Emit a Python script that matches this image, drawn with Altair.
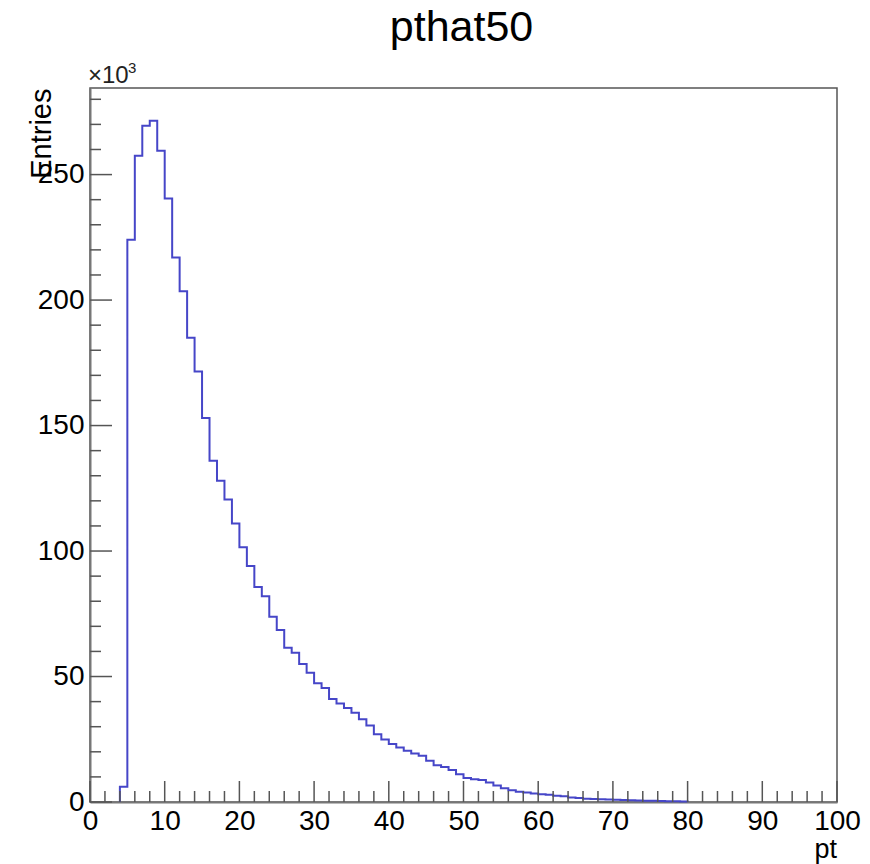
import altair as alt
import pandas as pd

# ---- data (bin width 1, entries in thousands) ----
first_bin = 4
entries_k = [6.1, 224, 257.5, 269.5, 271.5, 259.5, 240.5, 217, 203.5, 185,
             171.5, 153, 136, 128, 120.5, 111, 101.5, 94, 85.7, 82,
             73.8, 68.5, 61.5, 59.5, 55, 51.5, 47.3, 45.4, 41, 39.2,
             37.5, 35.6, 33, 30.5, 27, 24.9, 23.1, 21.7, 20.4, 19.3,
             18.4, 16.4, 14.6, 13.9, 12.8, 11.1, 9.6, 9.1, 8.8, 7.8,
             6.6, 5.5, 4.7, 4.1, 3.8, 3.4, 3.1, 2.9, 2.5, 2.3,
             1.8, 1.6, 1.3, 1.2, 1.1, 1.0, 0.9, 0.8, 0.7, 0.6,
             0.5, 0.45, 0.4, 0.3, 0.25, 0.2]
bin_low = [first_bin + k for k in range(len(entries_k))]
last_edge = bin_low[-1] + 1

x_major = list(range(0, 101, 10))
x_minor = [v for v in range(0, 101, 2) if v % 10]
y_major = [0, 50, 100, 150, 200, 250]
y_minor = [v for v in range(0, 285, 10) if v % 50]

title_text = "pthat50"
x_title = "pt"
y_title = "Entries"

W, H = 747, 714

# step-line table built from the bins
xs = [bin_low[0]] + bin_low + [last_edge]
ys = [0] + entries_k + [0]
hist_df = pd.DataFrame({"pt": xs, "entries": ys, "i": list(range(len(xs)))})

xscale = alt.Scale(domain=[0, 100], nice=False, zero=False)
yscale = alt.Scale(domain=[0, 284.5], nice=False)

xaxis = alt.Axis(values=x_major, labelFontSize=28, labelColor="black",
                 ticks=False, grid=False, domain=True, domainColor="#777",
                 domainWidth=2, labelPadding=5, labelFlush=False,
                 labelOverlap=False, title=None)
yaxis = alt.Axis(values=y_major, format="d", labelFontSize=28, labelColor="black",
                 ticks=False, grid=False, domain=True, domainColor="#777",
                 domainWidth=2, labelPadding=6, labelFlush=False,
                 labelOverlap=False, title=y_title, titleFontSize=29,
                 titleFontWeight="normal", titleColor="black", titleAngle=270,
                 titleX=-40, titleY=0, titleAlign="right",
                 titleBaseline="alphabetic")


def X(f):
    return alt.X(f, type="quantitative", scale=xscale, axis=xaxis)


def Y(f):
    return alt.Y(f, type="quantitative", scale=yscale, axis=yaxis)


hist = alt.Chart(hist_df).mark_line(
    interpolate="step-after", color="#4646c8", strokeWidth=2
).encode(x=X("pt"), y=Y("entries"), order=alt.Order("i:Q"))

tick_style = dict(color="#555", strokeWidth=1.5)

xmaj = alt.Chart(pd.DataFrame({"pos": x_major})).mark_rule(**tick_style).encode(
    x=X("pos"), y=alt.value(H), y2=alt.value(H - 21))
xmin = alt.Chart(pd.DataFrame({"pos": x_minor})).mark_rule(**tick_style).encode(
    x=X("pos"), y=alt.value(H), y2=alt.value(H - 11))
ymaj = alt.Chart(pd.DataFrame({"pos": y_major})).mark_rule(**tick_style).encode(
    y=Y("pos"), x=alt.value(0), x2=alt.value(22))
ymin = alt.Chart(pd.DataFrame({"pos": y_minor})).mark_rule(**tick_style).encode(
    y=Y("pos"), x=alt.value(0), x2=alt.value(11))

one = pd.DataFrame({"k": [0]})
title = alt.Chart(one).mark_text(fontSize=43, align="center", baseline="alphabetic",
                                 color="black").encode(
    x=alt.value(371.5), y=alt.value(-47), text=alt.value(title_text))
xlab = alt.Chart(one).mark_text(fontSize=27, align="right", baseline="alphabetic",
                                color="black").encode(
    x=alt.value(W), y=alt.value(H + 56), text=alt.value(x_title))
exp1 = alt.Chart(one).mark_text(fontSize=24, align="left", baseline="alphabetic",
                                color="#222").encode(
    x=alt.value(-2), y=alt.value(-5), text=alt.value("×10"))
exp2 = alt.Chart(one).mark_text(fontSize=15, align="left", baseline="alphabetic",
                                color="#222").encode(
    x=alt.value(38), y=alt.value(-15), text=alt.value("3"))

chart = alt.layer(hist, xmaj, xmin, ymaj, ymin, title, xlab, exp1, exp2).properties(
    width=W, height=H,
    autosize=alt.AutoSizeParams(type="none"),
    padding={"left": 90, "top": 88, "right": 33, "bottom": 62},
    background="white",
).configure(font="Liberation Sans").configure_view(stroke="#555", strokeWidth=1.5)

chart.save("out.html", embed_options={"renderer": "svg", "actions": False})
